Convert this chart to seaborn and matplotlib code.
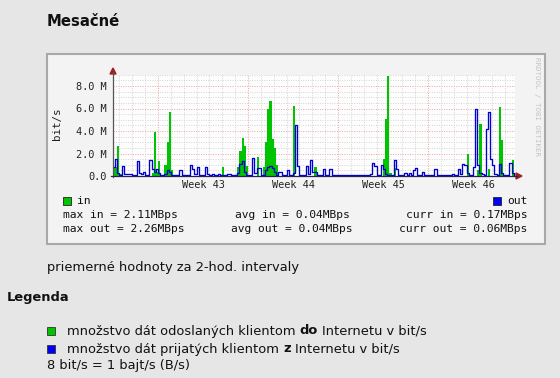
import matplotlib
matplotlib.use("Agg")
import matplotlib.pyplot as plt
from matplotlib.patches import Rectangle, Polygon
from matplotlib.lines import Line2D
import numpy as np
import pandas as pd
import seaborn as sns

# 4-hour averages in Mbit/s, one line per day (6 values)
traffic_in = [
    0.8, 0.8, 2.7, 0.2, 0.0, 0.0,
    0.0, 0.0, 0.0, 0.0, 0.0, 0.0,
    0.0, 0.0, 0.0, 0.0, 0.0, 0.0,
    0.3, 3.9, 0.4, 1.3, 0.0, 0.0,
    1.0, 3.0, 5.7, 0.5, 0.0, 0.0,
    0.0, 0.0, 0.0, 0.0, 0.0, 0.0,
    0.0, 0.0, 0.0, 0.0, 0.0, 0.0,
    0.0, 0.0, 0.0, 0.0, 0.0, 0.0,
    0.0, 0.0, 0.0, 0.8, 0.0, 0.0,
    0.0, 0.0, 0.0, 0.0, 0.8, 2.2,
    3.4, 2.7, 0.9, 0.0, 0.0, 0.0,
    0.0, 1.7, 0.0, 0.0, 0.8, 3.0,
    6.0, 6.7, 3.3, 2.5, 1.0, 0.0,
    0.0, 0.0, 0.0, 0.0, 0.0, 0.0,
    6.2, 0.0, 0.0, 0.0, 0.0, 0.0,
    0.0, 0.0, 0.0, 0.0, 0.8, 0.0,
    0.0, 0.0, 0.0, 0.0, 0.0, 0.0,
    0.0, 0.0, 0.0, 0.0, 0.0, 0.0,
    0.0, 0.0, 0.0, 0.0, 0.0, 0.0,
    0.0, 0.0, 0.0, 0.0, 0.0, 0.0,
    0.0, 0.0, 0.0, 0.0, 0.0, 0.0,
    1.5, 5.1, 8.9, 0.3, 0.0, 0.7,
    0.0, 0.0, 0.0, 0.0, 0.0, 0.0,
    0.0, 0.0, 0.0, 0.0, 0.0, 0.0,
    0.0, 0.0, 0.0, 0.0, 0.0, 0.0,
    0.0, 0.0, 0.0, 0.0, 0.0, 0.0,
    0.0, 0.0, 0.0, 0.0, 0.0, 0.0,
    0.0, 0.0, 0.0, 2.0, 0.0, 0.0,
    0.0, 0.0, 0.5, 4.6, 0.0, 0.0,
    0.0, 0.6, 0.0, 0.0, 0.0, 0.0,
    6.1, 3.2, 0.0, 0.0, 0.0, 0.0,
    1.4, 0.0,
]
traffic_out = [
    0.8, 1.5, 0.3, 0.1, 0.9, 0.2,
    0.2, 0.15, 0.2, 0.1, 0.05, 1.3,
    0.3, 0.2, 0.4, 0.1, 0.1, 1.4,
    0.6, 0.4, 0.6, 0.3, 0.1, 0.1,
    0.2, 0.5, 0.4, 0.05, 0.05, 0.05,
    0.05, 0.5, 0.1, 0.1, 0.1, 0.05,
    1.0, 0.6, 0.2, 0.8, 0.1, 0.1,
    0.1, 0.8, 0.2, 0.1, 0.2, 0.1,
    0.05, 0.2, 0.1, 0.05, 0.1, 0.2,
    0.2, 0.1, 0.05, 0.05, 0.3, 1.1,
    1.3, 0.4, 0.1, 0.05, 0.05, 1.6,
    0.3, 0.7, 0.7, 0.1, 0.1, 0.5,
    0.8, 0.9, 0.7, 0.4, 0.1, 0.4,
    0.4, 0.1, 0.05, 0.5, 0.1, 0.05,
    0.3, 4.5, 0.9, 0.1, 0.05, 0.1,
    0.9, 0.2, 1.4, 0.4, 0.4, 0.05,
    0.05, 0.1, 0.6, 0.1, 0.05, 0.6,
    0.1, 0.05, 0.05, 0.05, 0.1, 0.05,
    0.05, 0.05, 0.1, 0.05, 0.05, 0.05,
    0.05, 0.1, 0.05, 0.05, 0.05, 0.1,
    0.2, 1.2, 0.9, 0.1, 0.1, 1.0,
    0.6, 0.2, 0.1, 0.1, 0.1, 1.4,
    0.6, 0.1, 0.05, 0.1, 0.3, 0.1,
    0.3, 0.1, 0.5, 0.7, 0.1, 0.05,
    0.4, 0.05, 0.05, 0.05, 0.05, 0.05,
    0.6, 0.05, 0.05, 0.05, 0.05, 0.05,
    0.05, 0.1, 0.2, 0.05, 0.1, 0.6,
    0.2, 1.1, 1.0, 0.3, 0.1, 0.1,
    0.8, 6.0, 1.0, 0.3, 0.2, 0.1,
    4.2, 5.7, 1.5, 1.0, 0.2, 0.1,
    1.1, 0.3, 0.1, 0.05, 0.1, 1.2,
    0.3, 0.1,
]
week_labels = ["Week 43", "Week 44", "Week 45", "Week 46"]
y_ticks = [0, 2, 4, 6, 8]
y_tick_labels = ["0.0", "2.0 M", "4.0 M", "6.0 M", "8.0 M"]
stat_in = ["max in = 2.11MBps", "avg in = 0.04MBps", "curr in = 0.17MBps"]
stat_out = ["max out = 2.26MBps", "avg out = 0.04MBps", "curr out = 0.06MBps"]

page_title = "Mesačné"
note = "priemerné hodnoty za 2-hod. intervaly"
legend_title = "Legenda"
legend_in = [("množstvo dát odoslaných klientom", "normal"), ("do", "bold"),
             ("Internetu v bit/s", "normal")]
legend_out = [("množstvo dát prijatých klientom", "normal"), ("z", "bold"),
              ("Internetu v bit/s", "normal")]
footnote = "8 bit/s = 1 bajt/s (B/s)"

GREEN = "#00c400"
BLUE = "#0000ff"
W, H = 560, 378


def fx(x):
    return x / W


def fy(y):
    return 1 - y / H


df = pd.DataFrame({"day": np.arange(len(traffic_in)) / 6.0,
                   "inp": traffic_in, "out": traffic_out})

fig = plt.figure(figsize=(W / 100, H / 100), dpi=100, facecolor="#e6e6e6")

# grey panel of the mrtg image
fig.patches.append(Rectangle((fx(47), fy(244)), fx(545) - fx(47), fy(54) - fy(244),
                             transform=fig.transFigure, facecolor="#f3f3f3",
                             edgecolor="#a8a8a8", lw=1.5, zorder=-5))

ax = fig.add_axes([fx(113), fy(176), 402 / W, 101.25 / H])
ax.set_facecolor("#fdfdfd")

# grid
for v in np.arange(0.5, 9.01, 0.5):
    major = v % 2 == 0
    ax.axhline(v, color="#f0a0a0" if major else "#d4d4d4", lw=0.7,
               ls=(0, (1, 1.5)), zorder=0)
first_week = 3.5
for d in np.arange(0.5, 31.3, 1.0):
    major = (d - first_week) % 7 == 0
    ax.axvline(d, color="#f0a0a0" if major else "#d4d4d4", lw=0.7,
               ls=(0, (1, 1.5)), zorder=0)

x_edges = np.append(df["day"].values, len(df) / 6.0)
ax.fill_between(x_edges, np.append(df["inp"].values, df["inp"].values[-1]),
                step="post", color=GREEN, lw=0, zorder=2)
sns.lineplot(x=x_edges, y=np.append(df["out"].values, df["out"].values[-1]),
             drawstyle="steps-post", color="#0000d0", lw=0.95, ax=ax, zorder=3)

ax.set_xlim(0, 31.27)
ax.set_ylim(0, 9.0)
ax.set_yticks(y_ticks)
ax.set_yticklabels(y_tick_labels)
ax.set_xticks([first_week + 3.5 + 7 * i for i in range(len(week_labels))])
ax.set_xticklabels(week_labels)
ax.tick_params(length=0, labelsize=7.4, colors="#222222", pad=4.5)
ax.tick_params(axis="x", pad=3.0)
for lab in ax.get_xticklabels() + ax.get_yticklabels():
    lab.set_family("DejaVu Sans Mono")
for s in ax.spines.values():
    s.set_visible(False)
ax.set_xlabel("")
ax.set_ylabel("")

# axes with arrows
fig.add_artist(Line2D([fx(113), fx(113)], [fy(177), fy(72)], color="#555555", lw=0.9))
fig.add_artist(Line2D([fx(111), fx(517)], [fy(176), fy(176)], color="#222255", lw=0.9))
fig.patches.append(Polygon([(fx(110), fy(74)), (fx(116), fy(74)), (fx(113), fy(68))],
                           closed=True, transform=fig.transFigure, color="#a02020"))
fig.patches.append(Polygon([(fx(516), fy(173)), (fx(516), fy(179)), (fx(522), fy(176))],
                           closed=True, transform=fig.transFigure, color="#a02020"))

fig.text(fx(57), fy(124), "bit/s", rotation=90, ha="center", va="center",
         family="DejaVu Sans Mono", fontsize=7.8, color="#222222")
fig.text(fx(537), fy(57), "RRDTOOL / TOBI OETIKER", rotation=270, ha="center",
         va="top", family="DejaVu Sans Mono", fontsize=5.4, color="#c4c4c4")

# legend of the graph
mono = dict(family="DejaVu Sans Mono", fontsize=8.1, color="#111111", va="center")
fig.patches.append(Rectangle((fx(63), fy(205)), 8 / W, 8 / H, transform=fig.transFigure,
                             facecolor=GREEN, edgecolor="#222222", lw=0.6))
fig.text(fx(77), fy(201), "in", **mono)
fig.patches.append(Rectangle((fx(493), fy(205)), 8 / W, 8 / H, transform=fig.transFigure,
                             facecolor=BLUE, edgecolor="#222222", lw=0.6))
fig.text(fx(527), fy(201), "out", ha="right", **mono)
for row, yy in ((stat_in, 215), (stat_out, 229)):
    fig.text(fx(63), fy(yy), row[0], ha="left", **mono)
    fig.text(fx(292), fy(yy), row[1], ha="center", **mono)
    fig.text(fx(527), fy(yy), row[2], ha="right", **mono)

# page text
sans = dict(family="DejaVu Sans", color="#111111", va="center")
fig.text(fx(47), fy(21), page_title, fontsize=10.7, weight="bold", **sans)
fig.text(fx(47), fy(267), note, fontsize=9.4, **sans)
fig.text(fx(7), fy(298), legend_title, fontsize=9.4, weight="bold", **sans)

renderer = fig.canvas.get_renderer()


def rich_line(x0, y, parts):
    x = x0
    for txt, wt in parts:
        t = fig.text(fx(x), fy(y), txt, fontsize=9.4, weight=wt, **sans)
        bb = t.get_window_extent(renderer)
        x = bb.x1 + 4


for (parts, col), yy in (((legend_in, GREEN), 331), ((legend_out, BLUE), 349)):
    fig.patches.append(Rectangle((fx(47), fy(yy + 4)), 8 / W, 8 / H,
                                 transform=fig.transFigure, facecolor=col,
                                 edgecolor="#333333", lw=0.6))
    rich_line(67, yy, parts)
fig.text(fx(47), fy(366), footnote, fontsize=9.4, **sans)

fig.savefig("out.png", dpi=100, facecolor=fig.get_facecolor())
